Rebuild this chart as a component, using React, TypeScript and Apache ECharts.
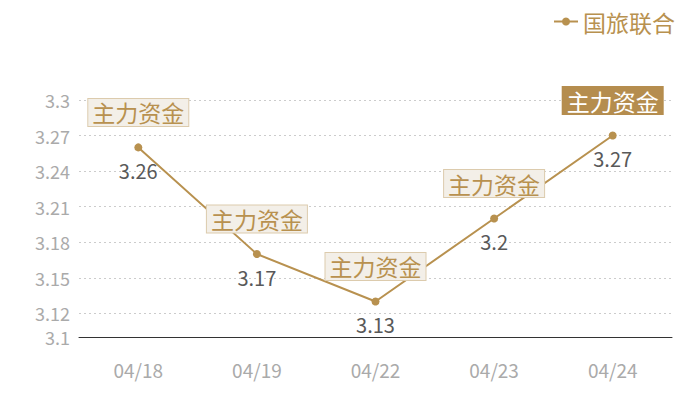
import React, { useEffect, useRef } from 'react';
import * as echarts from 'echarts';
import type { EChartsOption } from 'echarts';

const dates = ['04/18', '04/19', '04/22', '04/23', '04/24'];
const prices = [3.26, 3.17, 3.13, 3.2, 3.27];
const flagText = '主力资金';
const seriesName = '国旅联合';

const gold = '#b8914f';
const cjk = '"Noto Sans CJK SC", "Noto Sans", sans-serif';

const App: React.FC = () => {
  const chartRef = useRef<HTMLDivElement>(null);

  useEffect(() => {
    if (!chartRef.current) return;
    const chart = echarts.init(chartRef.current, undefined, { renderer: 'svg' });

    const last = prices.length - 1;
    // flag boxes above each point, last one filled
    const flags = prices.map((v, i) => ({
      coord: [i, v],
      value: flagText,
      label: i === last
        ? { color: '#fff', backgroundColor: '#b58d4e', borderColor: '#b58d4e' }
        : {},
    }));

    const option: EChartsOption = {
      animation: false,
      textStyle: { fontFamily: cjk },
      legend: {
        data: [seriesName],
        right: 20,
        top: 5,
        itemWidth: 24,
        itemHeight: 10,
        itemGap: 7,
        textStyle: { color: gold, fontSize: 23, fontFamily: cjk },
      },
      grid: { left: 79, right: 28, top: 100, bottom: 63 },
      xAxis: {
        type: 'category',
        data: dates,
        axisLine: { lineStyle: { color: '#333', width: 1 } },
        axisTick: { show: false },
        axisLabel: { color: '#aaa', fontSize: 19, margin: 23, fontFamily: cjk },
      },
      yAxis: {
        type: 'value',
        min: 3.1,
        max: 3.3,
        splitNumber: 7,
        axisLine: { show: false },
        axisTick: { show: false },
        axisLabel: { color: '#aaa', fontSize: 18, margin: 9, lineHeight: 20, fontFamily: cjk, showMinLabel: true, showMaxLabel: true },
        splitLine: { lineStyle: { color: '#ccc', type: [2, 3] } },
      },
      series: [
        {
          name: seriesName,
          type: 'line',
          data: prices,
          symbol: 'circle',
          symbolSize: 8,
          itemStyle: { color: gold },
          lineStyle: { color: gold, width: 2 },
          label: {
            show: true,
            position: 'bottom',
            distance: 9,
            color: '#595959',
            fontSize: 20,
            fontFamily: cjk,
          },
          markPoint: {
            symbol: 'rect',
            symbolSize: 1,
            itemStyle: { color: 'rgba(0,0,0,0)' },
            label: {
              show: true,
              position: 'inside',
              offset: [0, -35],
              formatter: flagText,
              color: gold,
              fontSize: 23,
              fontFamily: cjk,
              backgroundColor: '#f3efe8',
              borderColor: '#dccbad',
              borderWidth: 1,
              padding: [2, 4, 2, 4],
            },
            data: flags as any,
          },
        },
      ],
    };

    chart.setOption(option);
    return () => chart.dispose();
  }, []);

  return <div ref={chartRef} style={{ width: 700, height: 400, margin: -8 }} />;
};

export default App;
